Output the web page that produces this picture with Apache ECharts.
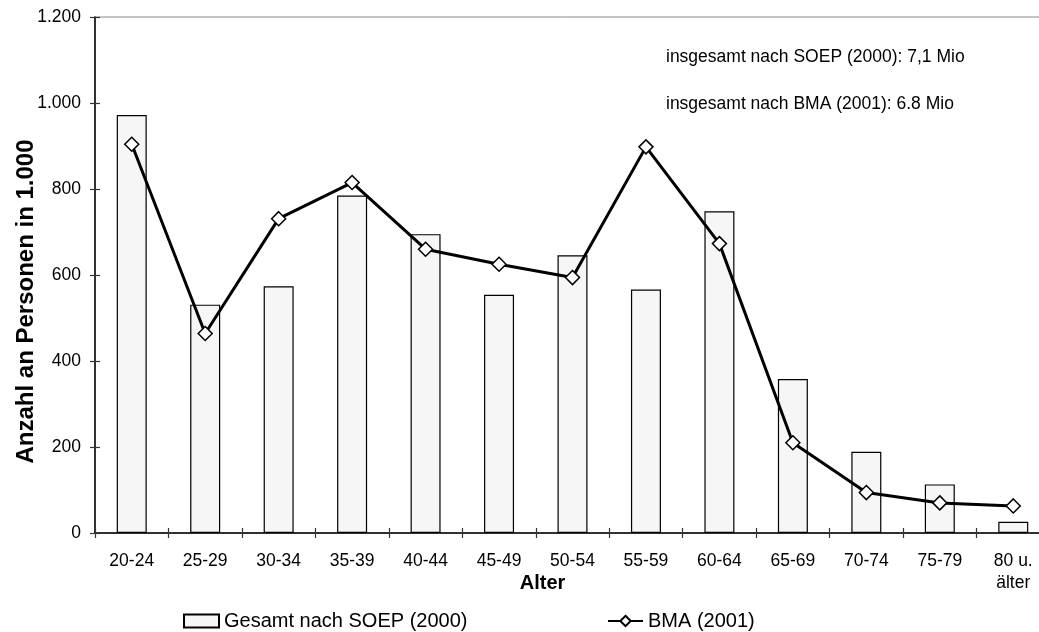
<!DOCTYPE html>
<html>
<head>
<meta charset="utf-8">
<script src="https://cdn.jsdelivr.net/npm/echarts@6/dist/echarts.min.js"></script>
<style>
html,body{margin:0;padding:0;background:#fff;}
#c{width:1039px;height:632px;}
</style>
</head>
<body>
<div id="c"></div>
<script>
const categories = ['20-24','25-29','30-34','35-39','40-44','45-49','50-54','55-59','60-64','65-69','70-74','75-79','80 u.\nälter'];
const soepValues = [972, 531, 574, 785, 695, 554, 646, 566, 748, 358, 189, 113, 26];
const bmaValues = [904, 464, 731, 815, 660, 625, 594, 898, 673, 210, 94, 70, 63];
const seriesNames = ['Gesamt nach SOEP (2000)', 'BMA (2001)'];
const notes = ['insgesamt nach SOEP (2000): 7,1 Mio', 'insgesamt nach BMA (2001): 6.8 Mio'];
const yTickLabels = {0:'0',200:'200',400:'400',600:'600',800:'800',1000:'1.000',1200:'1.200'};

const FONT = "'Liberation Sans', Arial, Helvetica, sans-serif";
const chart = echarts.init(document.getElementById('c'), null, {renderer:'canvas'});

const option = {
  backgroundColor: '#fff',
  animation: false,
  textStyle: {fontFamily: FONT, color: '#000'},
  grid: {left: 95, top: 17, width: 955, height: 516, containLabel: false, outerBoundsMode: 'none',
         show: true, borderColor: '#888', borderWidth: 1, backgroundColor: 'transparent'},
  xAxis: [{
    type: 'category', data: categories, position: 'bottom',
    axisLine: {show: true, lineStyle: {color: '#000', width: 1.5}},
    axisTick: {show: true, inside: false, length: 5, lineStyle: {color: '#333', width: 1.2}},
    axisLabel: {fontSize: 17.5, color: '#000', margin: 17, lineHeight: 22, fontFamily: FONT, interval: 0},
    name: 'Alter', nameLocation: 'middle', nameGap: 40, nameMoveOverlap: false,
    nameTextStyle: {fontSize: 20, fontWeight: 'bold', color: '#000', fontFamily: FONT, padding: [0, 60, 0, 0]}
  }, {
    type: 'category', data: categories, position: 'bottom',
    axisLine: {show: false},
    axisTick: {show: true, inside: true, length: 5, lineStyle: {color: '#333', width: 1.2}},
    axisLabel: {show: false}
  }],
  yAxis: [{
    type: 'value', min: 0, max: 1200, interval: 200, position: 'left',
    splitLine: {show: false},
    axisLine: {show: true, lineStyle: {color: '#000', width: 1.5}},
    axisTick: {show: true, inside: false, length: 5, lineStyle: {color: '#333', width: 1.2}},
    axisLabel: {fontSize: 17.5, color: '#000', margin: 14, fontFamily: FONT, formatter: v => yTickLabels[v]},
    name: 'Anzahl an Personen in 1.000', nameLocation: 'middle', nameGap: 57, nameRotate: 90, nameMoveOverlap: false,
    nameTextStyle: {fontSize: 24, fontWeight: 'bold', color: '#000', fontFamily: FONT, padding: [0, 53, 0, 0]}
  }, {
    type: 'value', min: 0, max: 1200, interval: 200, position: 'left',
    splitLine: {show: false},
    axisLine: {show: false},
    axisTick: {show: true, inside: true, length: 5, lineStyle: {color: '#333', width: 1.2}},
    axisLabel: {show: false}
  }],
  legend: [{
    data: [{name: seriesNames[0], icon: 'rect'}], left: 178, top: 606, itemWidth: 35, itemHeight: 13, itemGap: 5,
    textStyle: {fontSize: 20, color: '#000', fontFamily: FONT}
  }, {
    data: [seriesNames[1]], left: 602, top: 606, itemWidth: 35, itemHeight: 13, itemGap: 5,
    textStyle: {fontSize: 20, color: '#000', fontFamily: FONT}
  }],
  graphic: [
    {type: 'text', left: 666, top: 48, style: {text: notes[0], font: "17.5px " + FONT, fill: '#000'}},
    {type: 'text', left: 666, top: 95, style: {text: notes[1], font: "17.5px " + FONT, fill: '#000'}}
  ],
  series: [{
    name: seriesNames[0], type: 'bar', data: soepValues, barWidth: 30,
    itemStyle: {color: '#f6f6f6', borderColor: '#000', borderWidth: 1.2},
    z: 2
  }, {
    name: seriesNames[1], type: 'line', data: bmaValues,
    symbol: 'diamond', symbolSize: 14, showAllSymbol: true,
    lineStyle: {color: '#000', width: 3},
    itemStyle: {color: '#fff', borderColor: '#000', borderWidth: 1.5},
    z: 3
  }]
};
chart.setOption(option);
</script>
</body>
</html>
